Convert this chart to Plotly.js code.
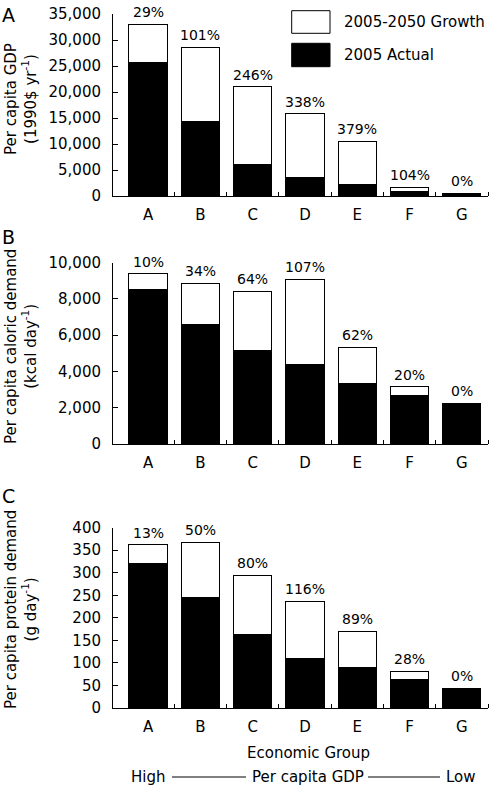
<!DOCTYPE html>
<html>
<head>
<meta charset="utf-8">
<script src="https://cdn.plot.ly/plotly-3.0.1.min.js"></script>
<style>html,body{margin:0;padding:0;background:#fff;}#chart{width:490px;height:788px;}</style>
</head>
<body>
<div id="chart"></div>
<script>
// ---- data ----
const categories = ['A', 'B', 'C', 'D', 'E', 'F', 'G'];
const seriesNames = ['2005-2050 Growth', '2005 Actual'];

const gdpActual = [25600, 14300, 6100, 3600, 2200, 800, 500];
const gdpGrowth = [7400, 14300, 14900, 12200, 8350, 850, 0];
const gdpPct = ['29%', '101%', '246%', '338%', '379%', '104%', '0%'];

const calActual = [8530, 6600, 5150, 4400, 3330, 2650, 2260];
const calGrowth = [850, 2260, 3270, 4680, 2020, 510, 0];
const calPct = ['10%', '34%', '64%', '107%', '62%', '20%', '0%'];

const proActual = [320, 246, 164, 110, 90, 64, 44];
const proGrowth = [42, 122, 131, 127, 80, 18, 0];
const proPct = ['13%', '50%', '80%', '116%', '89%', '28%', '0%'];

const panelLetters = ['A', 'B', 'C'];
const yTitles = [
  'Per capita GDP<br>(1990$ yr<sup>-1</sup>)',
  'Per capita caloric demand<br>(kcal day<sup>-1</sup>)',
  'Per capita protein demand<br>(g day<sup>-1</sup>)'
];
const yRanges = [[0, 35000], [0, 10000], [0, 400]];
const yDticks = [5000, 2000, 50];
const xTitle = 'Economic Group';
const gradientText = ['High', 'Per capita GDP', 'Low'];

// ---- helpers ----
const FONT = 'DejaVu Sans, Arial, sans-serif';
const W = 490, H = 788, ML = 113, MR = 2, MT = 14, MB = 80;
const PW = W - ML - MR, PH = H - MT - MB;
const px2x = p => (p - ML) / PW;
const py2y = p => (H - MB - p) / PH;

const xi = categories.map((c, i) => i);
const panels = [
  {a: gdpActual, g: gdpGrowth, p: gdpPct},
  {a: calActual, g: calGrowth, p: calPct},
  {a: proActual, g: proGrowth, p: proPct}
];
const domains = [[py2y(196), 1], [py2y(444), py2y(262.7)], [0, py2y(527.7)]];

const layout = {
  width: W, height: H, autosize: false,
  margin: {l: ML, r: MR, t: MT, b: MB, pad: 0},
  paper_bgcolor: '#fff', plot_bgcolor: '#fff',
  barmode: 'stack', showlegend: false,
  font: {family: FONT, size: 15, color: '#000'},
  shapes: [], annotations: []
};

const traces = [];
panels.forEach((pn, k) => {
  const xa = k === 0 ? 'x' : 'x' + (k + 1);
  const ya = k === 0 ? 'y' : 'y' + (k + 1);
  traces.push({
    type: 'bar', x: xi, y: pn.a, name: seriesNames[1], xaxis: xa, yaxis: ya,
    width: 0.73, marker: {color: '#000', line: {color: '#000', width: 1}},
    showlegend: false, hoverinfo: 'skip'
  });
  traces.push({
    type: 'bar', x: xi, y: pn.g, name: seriesNames[0], xaxis: xa, yaxis: ya,
    width: 0.73, marker: {color: '#fff', line: {color: '#000', width: 1}},
    showlegend: false, hoverinfo: 'skip'
  });
  // percentage labels above each stack, positioned through the axes
  xi.forEach(i => {
    layout.annotations.push({
      text: pn.p[i], xref: xa, yref: ya, x: i, y: pn.a[i] + pn.g[i],
      xanchor: 'center', yanchor: 'bottom', yshift: 2, showarrow: false,
      font: {family: FONT, size: 14, color: '#000'}
    });
  });
});

for (let k = 0; k < 3; k++) {
  const sx = k === 0 ? '' : String(k + 1);
  layout['xaxis' + sx] = {
    anchor: 'y' + sx, domain: [0, 1], range: [-0.67, categories.length - 0.5],
    tickmode: 'array', tickvals: xi, ticktext: categories, ticks: '',
    ticklabelstandoff: 5,
    tickfont: {family: FONT, size: 15, color: '#000'},
    minor: {tickmode: 'array', tickvals: xi.map(i => i + 0.5), ticks: 'inside', ticklen: 4, tickcolor: '#000', tickwidth: 1, showgrid: false},
    showline: true, linecolor: '#000', linewidth: 1,
    showgrid: false, zeroline: false, fixedrange: true
  };
  layout['yaxis' + sx] = {
    anchor: 'x' + sx, domain: domains[k], range: yRanges[k],
    tickmode: 'linear', tick0: 0, dtick: yDticks[k],
    ticks: 'inside', ticklen: 5, tickcolor: '#000', tickwidth: 1,
    tickformat: ',d', exponentformat: 'none', separatethousands: true,
    ticklabelstandoff: 8,
    tickfont: {family: FONT, size: 15, color: '#000'},
    showline: true, linecolor: '#000', linewidth: 1,
    showgrid: false, zeroline: false, fixedrange: true
  };
}

// panel letters
const letterY = [15, 237, 496.5];
panelLetters.forEach((t, k) => {
  layout.annotations.push({
    text: t, xref: 'paper', yref: 'paper', x: px2x(8.7), y: py2y(letterY[k]),
    xanchor: 'center', yanchor: 'middle', showarrow: false,
    font: {family: FONT, size: 19, color: '#000'}
  });
});

// y titles
const titleY = [99, 347, 610];
yTitles.forEach((t, k) => {
  layout.annotations.push({
    text: t, xref: 'paper', yref: 'paper', x: px2x(21), y: py2y(titleY[k]),
    xanchor: 'center', yanchor: 'middle', textangle: -90, showarrow: false,
    font: {family: FONT, size: 15, color: '#000'}
  });
});

// legend (boxes + labels)
const legBoxes = [[291.7, 10.7, 330, 33.3, '#fff'], [291.7, 43.3, 330, 66.7, '#000']];
legBoxes.forEach((b, k) => {
  layout.shapes.push({
    type: 'rect', xref: 'paper', yref: 'paper',
    x0: px2x(b[0]), x1: px2x(b[2]), y0: py2y(b[3]), y1: py2y(b[1]),
    fillcolor: b[4], line: {color: '#000', width: 1}
  });
  layout.annotations.push({
    text: seriesNames[k], xref: 'paper', yref: 'paper',
    x: px2x(342), y: py2y((b[1] + b[3]) / 2), xanchor: 'left', yanchor: 'middle',
    showarrow: false, font: {family: FONT, size: 15, color: '#000'}
  });
});

// bottom labels
layout.annotations.push({
  text: xTitle, xref: 'paper', yref: 'paper', x: px2x(308), y: py2y(753),
  xanchor: 'center', yanchor: 'middle', showarrow: false,
  font: {family: FONT, size: 15, color: '#000'}
});
const gradX = [148, 308, 461];
gradientText.forEach((t, k) => {
  layout.annotations.push({
    text: t, xref: 'paper', yref: 'paper', x: px2x(gradX[k]), y: py2y(777),
    xanchor: 'center', yanchor: 'middle', showarrow: false,
    font: {family: FONT, size: 15, color: '#000'}
  });
});
[[172, 246], [368, 440]].forEach(s => {
  layout.shapes.push({
    type: 'line', xref: 'paper', yref: 'paper',
    x0: px2x(s[0]), x1: px2x(s[1]), y0: py2y(777), y1: py2y(777),
    line: {color: '#000', width: 1}
  });
});

Plotly.newPlot('chart', traces, layout, {displayModeBar: false, staticPlot: true});
</script>
</body>
</html>
